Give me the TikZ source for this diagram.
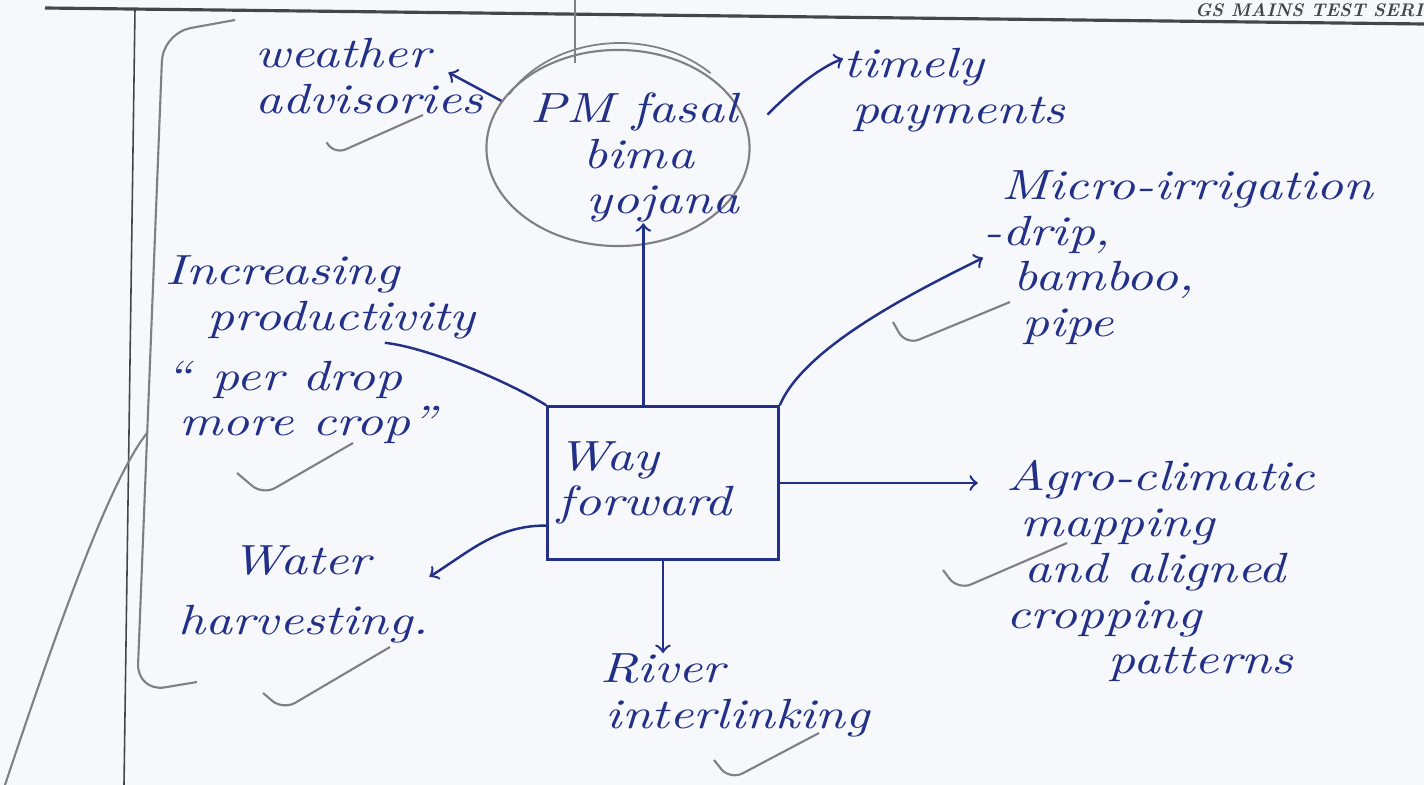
\documentclass[tikz,border=0pt]{standalone}
\usepackage{fontspec}
\usetikzlibrary{shapes.geometric}
\newfontfamily\handfont[FakeStretch=1.25]{lmroman10-italic.otf}
\definecolor{ink}{RGB}{34,48,136}
\definecolor{pencil}{RGB}{128,128,132}
\definecolor{paper}{RGB}{247,248,251}
\definecolor{rulegray}{RGB}{70,70,72}

\begin{document}
\begin{tikzpicture}[x=0.01cm,y=-0.01cm,
  hand/.style={inner sep=0pt,align=left,text=ink,font=\handfont\fontsize{12}{13}\selectfont},
  link/.style={draw=ink,line width=0.7pt},
  penline/.style={draw=pencil,line width=0.6pt},
  tick/.style={penline,rounded corners=4pt}]
\useasboundingbox[fill=paper] (0,0) rectangle (1424,785);
\draw[rulegray,line width=0.9pt] (45,8) -- (1424,24);
\draw[rulegray,line width=0.45pt] (135,9) -- (124,785);
\node[anchor=south east,inner sep=0pt,text=rulegray,font=\bfseries\itshape\fontsize{5.2}{6}\selectfont] (hdr) at (1424,18) {GS MAINS TEST SERI};

\node[ellipse,penline,minimum width=2.63cm,minimum height=1.96cm] (pm) at (618,148) {};
\node[hand,anchor=north west] (pmtxt) at (530,92) {PM fasal\\\hspace*{15pt}bima\\\hspace*{16pt}yojana};
\node[hand,anchor=west] (wa) at (255,76) {weather\\advisories};
\node[hand,anchor=north west] (tp) at (843,48) {timely\\\hspace*{2.5pt}payments};
\node[hand,anchor=north west] (mi) at (983,170) {\hspace*{5pt}Micro-irrigation\\-drip,\\\hspace*{8.5pt}bamboo,\\\hspace*{11pt}pipe};
\node[hand,anchor=north west] (ip) at (165,255) {Increasing\\\hspace*{12pt}productivity\\[4pt]“\hspace*{6pt}per drop\\\hspace*{4pt}more crop”};
\node[hand,draw=ink,line width=0.7pt,inner sep=3pt,minimum width=2.3cm,minimum height=1.53cm,text width=2.1cm] (wf) at (663,483) {Way\\forward};
\node[hand,anchor=north west] (ac) at (1006,460) {Agro-climatic\\\hspace*{4pt}mapping\\\hspace*{5pt}and aligned\\cropping\\\hspace*{29pt}patterns};
\node[hand,anchor=north west] (wh) at (178,545) {\hspace*{15pt}Water\\[4pt]harvesting.};
\node[hand,anchor=north west] (ri) at (600,653) {River\\\hspace*{1.5pt}interlinking};

\draw[link,->] (pm.158) -- ([shift={(-10pt,1pt)}]wa.east);
\draw[link,->] ([xshift=7pt]pm.15) .. controls +(25,-25) and +(-25,10) .. ([yshift=-3pt]tp.north west);
\draw[link,->] ([xshift=-5.6pt]wf.north) -- ([xshift=-5.6pt]wf.north |- pmtxt.south);
\draw[link,->] (wf.north east) .. controls +(25,-60) and +(-60,30) .. (mi.west);
\draw[link] (wf.north west) .. controls +(-35,-22) and +(45,5) .. ([shift={(-26pt,2pt)}]ip.east);
\draw[link,->,shorten >=8pt] (wf.east) -- (wf.east -| ac.west);
\draw[link,->] (wf.200) .. controls +(-50,0) and +(40,-25) .. ([yshift=5pt]wh.east);
\draw[link,->] (wf.south) -- (wf.south |- ri.north);

\draw[penline,line width=0.5pt] (620,146) ++(210:128 and 103) arc[start angle=210,end angle=315,x radius=128,y radius=103];
\draw[penline] (575,0) -- (575,63);
\draw[penline,rounded corners=8pt] (235,20) -- (163,33) -- (137,692) -- (197,682);
\draw[penline] (5,785) .. controls (60,620) and (110,480) .. (147,433);
\foreach \ax/\ay/\bx/\by/\cx/\cy in {327/143/333/155/423/115,237/473/263/495/353/443,893/322/906/345/1010/302,943/570/958/590/1067/543,263/693/283/710/390/647,714/760/730/780/819/733}
  \draw[tick] (\ax,\ay) -- (\bx,\by) -- (\cx,\cy);
\end{tikzpicture}
\end{document}
